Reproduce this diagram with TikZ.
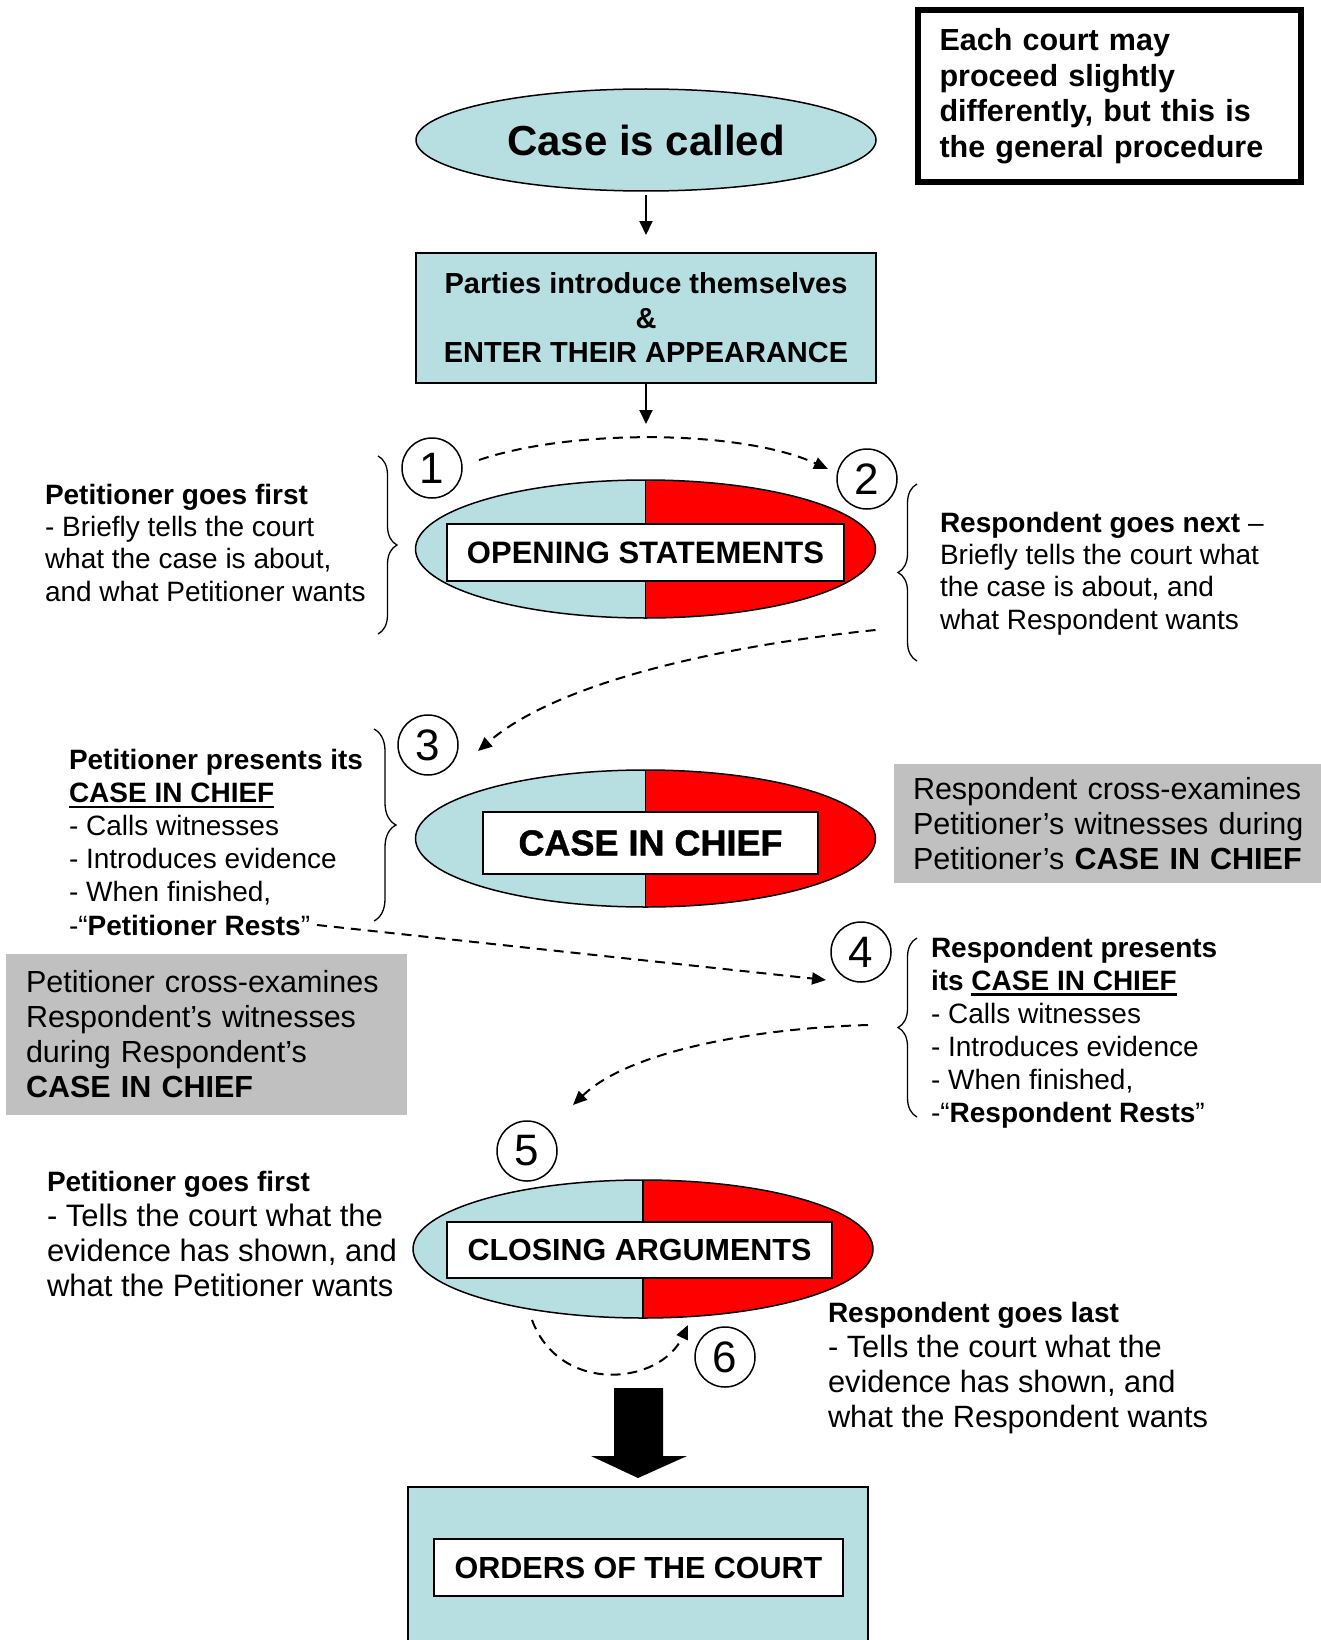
\documentclass[tikz,border=0pt]{standalone}
\usepackage{fontspec}
\setmainfont{Liberation Sans}
\newfontfamily\heavyfont{Liberation Sans Bold}[FakeBold=1.3]
\usetikzlibrary{arrows.meta,shapes.geometric,decorations.pathreplacing,calc}
\definecolor{lb}{RGB}{183,222,225}
\definecolor{gr}{RGB}{192,192,192}
\newcommand\fs[2]{\fontsize{#1}{#2}\selectfont}
\newcommand\myul[1]{\setbox0\hbox{#1}\rlap{\rule[-5.5pt]{\wd0}{2.2pt}}\box0}
\begin{document}
\begin{tikzpicture}[x=1pt,y=-1pt,
 every node/.style={inner sep=0pt,outer sep=0pt},
 ln/.style={line width=1.5pt},
 split/.style={ellipse,draw,ln,path picture={
   \fill[lb] (path picture bounding box.south west) rectangle (path picture bounding box.north);
   \fill[red] (path picture bounding box.north) rectangle (path picture bounding box.south east);
   \draw[ln] (path picture bounding box.north) -- (path picture bounding box.south);}},
 wbox/.style={draw,fill=white,ln},
 num/.style={circle,draw,ln,minimum size=60pt,font=\fs{44}{44}},
 arr/.style={line width=2pt,-{Triangle[length=14pt,width=13pt]}},
 darr/.style={line width=2pt,dash pattern=on 10pt off 7pt,-{Triangle[length=14pt,width=12pt]}},
 brc/.style={line width=1.3pt,decorate,decoration={brace,amplitude=#1}},
 txt/.style={anchor=base west,align=left},
 grbox/.style={fill=gr,anchor=north west,align=left,font=\fs{30.5}{35}}
]
\fill[white] (0,0) rectangle (1321,1640);
\useasboundingbox (0,0) rectangle (1321,1640);

% note box
\node[draw,line width=6.5pt,minimum width=383pt,minimum height=172pt,text width=340pt,align=left,font=\fs{30.5}{35.5}\bfseries] (note) at (1109.5,96)
 {Each court may\\proceed slightly\\differently, but this is\\the general procedure};

% top flow
\node[ellipse,draw,ln,fill=lb,minimum width=460pt,minimum height=102pt,font=\fs{42}{42}\bfseries] (case) at (646,140) {Case is called};
\node[draw,ln,fill=lb,minimum width=460pt,minimum height=130pt,align=center,font=\fs{29}{34.5}\bfseries] (parties) at (646,318)
 {Parties introduce themselves\\\&\\ENTER THEIR APPEARANCE};
\draw[arr] ([yshift=-4pt]case.south) -- ([yshift=18pt]parties.north);
\coordinate (a2end) at (646,424);
\draw[arr] (parties.south) -- (a2end);

% opening statements
\node[split,minimum width=460pt,minimum height=138pt] (open) at (645.5,549) {};
\node[wbox,minimum width=397pt,minimum height=57pt,font=\fs{31}{31}\bfseries] (openlbl) at (645.5,552.5) {OPENING STATEMENTS};
\node[num] (c1) at (432,468) {1};
\node[num] (c2) at (867,479) {2};

\node[txt,font=\fs{28}{32.3}] (petopen) at (45,601)
 {\textbf{Petitioner goes first}\\- Briefly tells the court\\what the case is about,\\and what Petitioner wants};
\draw[brc=19pt] (378,456) -- (378,634);
\node[txt,font=\fs{28}{32.3}] (respnext) at (940,629)
 {\textbf{Respondent goes next} –\\Briefly tells the court what\\the case is about, and\\what Respondent wants};
\draw[brc=19pt] (917,661) -- (917,484);

\draw[darr] ($(c1)+(47,-8)$) .. controls (570,429) and (740,429) .. ($(c2)+(-39,-10)$);

% case in chief
\node[split,minimum width=460pt,minimum height=137pt] (cic) at (645.5,838.5) {};
\node[wbox,minimum width=335pt,minimum height=62pt,font=\fs{36}{36}\heavyfont] (ciclbl) at (650.5,843) {CASE IN CHIEF};
\node[num] (c3) at (428,745) {3};
\node[num] (c4) at (861,952) {4};

\draw[darr] ($(open.east)+(0,81)$) .. controls (730,645) and (560,680) .. ($(c3)+(50,6)$);

\node[txt,font=\fs{28}{33.2}] (petcic) at (69,935)
 {\textbf{Petitioner presents its}\\\textbf{\myul{CASE IN CHIEF}}\\- Calls witnesses\\- Introduces evidence\\- When finished,\\-“\textbf{Petitioner Rests}”};
\draw[brc=22pt] (374,729) -- (374,921);

\node[grbox,inner xsep=19pt,text width=420pt,minimum height=119pt] (respcross) at (894,764)
 {Respondent cross-examines\\Petitioner’s witnesses during\\Petitioner’s \textbf{CASE IN CHIEF}};

\coordinate (prend) at (317,925);
\draw[darr] (prend) -- ($(c4)+(-35,28)$);

\node[grbox,inner xsep=20pt,text width=361pt,minimum height=161pt] (petcross) at (6,954)
 {Petitioner cross-examines\\Respondent’s witnesses\\during Respondent’s\\\textbf{CASE IN CHIEF}};

\node[txt,font=\fs{28}{33}] (respcic) at (931,1122)
 {\textbf{Respondent presents}\\\textbf{its \myul{CASE IN CHIEF}}\\- Calls witnesses\\- Introduces evidence\\- When finished,\\-“\textbf{Respondent Rests}”};
\draw[brc=19pt] (917,1117) -- (917,938);

% closing
\node[split,minimum width=460pt,minimum height=138pt] (close) at (643,1249) {};
\node[wbox,minimum width=385pt,minimum height=56pt,font=\fs{30.5}{30}\bfseries] (closelbl) at (639.5,1250) {CLOSING ARGUMENTS};
\node[num] (c5) at (527,1151) {5};
\node[num] (c6) at (725,1357) {6};

\coordinate (rrend) at (868,1025);
\draw[darr] (rrend) .. controls (760,1028) and (630,1050) .. ($(c5)+(46,-46)$);

\draw[darr] ($(close.south)+(-111,2)$) .. controls (560,1395) and (660,1385) .. ($(c6)+(-37,-32)$);

\node[txt,font=\fs{31}{35}] (petclose) at (47,1296)
 {{\fs{28}{35}\bfseries Petitioner goes first}\\- Tells the court what the\\evidence has shown, and\\what the Petitioner wants};
\node[txt,font=\fs{30.8}{35}] (respclose) at (828,1427)
 {{\fs{28}{35}\bfseries Respondent goes last}\\- Tells the court what the\\evidence has shown, and\\what the Respondent wants};

% orders
\node[draw,ln,fill=lb,minimum width=460pt,minimum height=220pt,anchor=north west] (orders) at (408,1487) {};
\node[wbox,minimum width=409pt,minimum height=57pt,font=\fs{30.5}{30}\bfseries] (orderslbl) at (638.5,1567.5) {ORDERS OF THE COURT};

\coordinate (bt) at ($(orders.north)+(0,-9)$);
\fill (bt) -- ++(-47,-22) -- ++(23,0) -- ++(0,-68) -- ++(49,0) -- ++(0,68) -- ++(24,0) -- cycle;
\end{tikzpicture}
\end{document}
